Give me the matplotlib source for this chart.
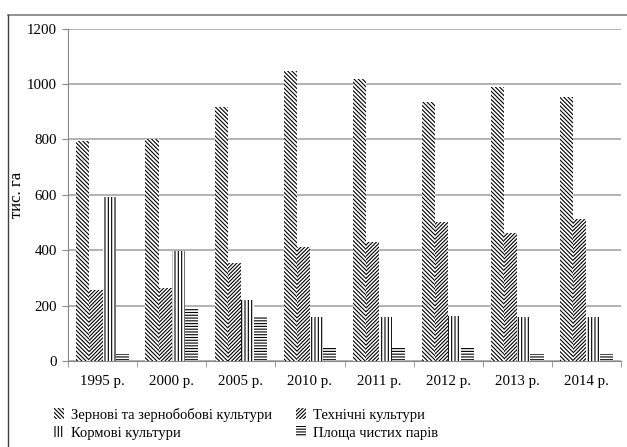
import matplotlib.pyplot as plt
import numpy as np
from matplotlib.lines import Line2D

years = ["1995 р.", "2000 р.", "2005 р.", "2010 р.", "2011 р.", "2012 р.", "2013 р.", "2014 р."]
grain = [796, 800, 919, 1049, 1019, 937, 991, 953]
technical = [256, 262, 354, 412, 429, 502, 464, 511]
fodder = [592, 399, 220, 160, 160, 162, 160, 160]
fallow = [25, 191, 162, 52, 52, 52, 25, 25]

labels = ["Зернові та зернобобові культури", "Технічні культури",
          "Кормові культури", "Площа чистих парів"]

plt.rcParams['font.family'] = ['Liberation Serif', 'DejaVu Serif']
plt.rcParams['hatch.linewidth'] = 0.8

W, H = 627, 447
fig = plt.figure(figsize=(W / 100, H / 100), dpi=100)
ax = fig.add_axes([68 / W, (H - 361) / H, (621 - 68) / W, (361 - 28.7) / H])

x = np.arange(len(years))
width = 0.19
series = [grain, technical, fodder, fallow]
hatches = ['\\\\\\\\\\\\\\\\', '/////////', '|||||', '------']
bars = []
for i, (vals, h) in enumerate(zip(series, hatches)):
    b = ax.bar(x + (i - 1.5) * width, vals, width, facecolor='white',
               edgecolor='black', linewidth=0, hatch=h, zorder=3)
    bars.append(b)

ax.set_xlim(-0.5, len(years) - 0.5)
ax.set_ylim(0, 1200)
ax.set_yticks(np.arange(0, 1201, 200))
ax.yaxis.grid(True, color='#a6a6a6', linewidth=1.2, zorder=0)
ax.set_xticks(x)
ax.set_xticklabels(years, fontsize=10.7)
ax.set_xticks(np.arange(-0.5, len(years)), minor=True)
ax.tick_params(axis='x', which='major', length=0, pad=10)
ax.tick_params(axis='x', which='minor', length=4, color='#888888')
ax.tick_params(axis='y', length=4, color='#888888', labelsize=10.7, pad=4)
for s in ['top', 'right']:
    ax.spines[s].set_visible(False)
for s in ['left', 'bottom']:
    ax.spines[s].set_color('#888888')
ax.set_ylabel("тис. га", fontsize=12)
ax.yaxis.set_label_coords(-(68 - 25) / (621 - 68), 0.5)

order = [0, 2, 1, 3]
fig.legend([bars[i] for i in order], [labels[i] for i in order], ncol=2,
           loc='upper left', bbox_to_anchor=(51 / W, (H - 405) / H),
           frameon=False, fontsize=10.5, handlelength=0.7, handleheight=0.8,
           handletextpad=0.5, columnspacing=1.6, labelspacing=0.3,
           borderaxespad=0, borderpad=0.2)

fig.add_artist(Line2D([8 / W, 1], [1 - 15 / H, 1 - 15 / H], color='#808080', lw=1.2))
fig.add_artist(Line2D([8 / W, 8 / W], [0, 1 - 15 / H], color='#404040', lw=1.0))

fig.savefig("out.png", dpi=100)
